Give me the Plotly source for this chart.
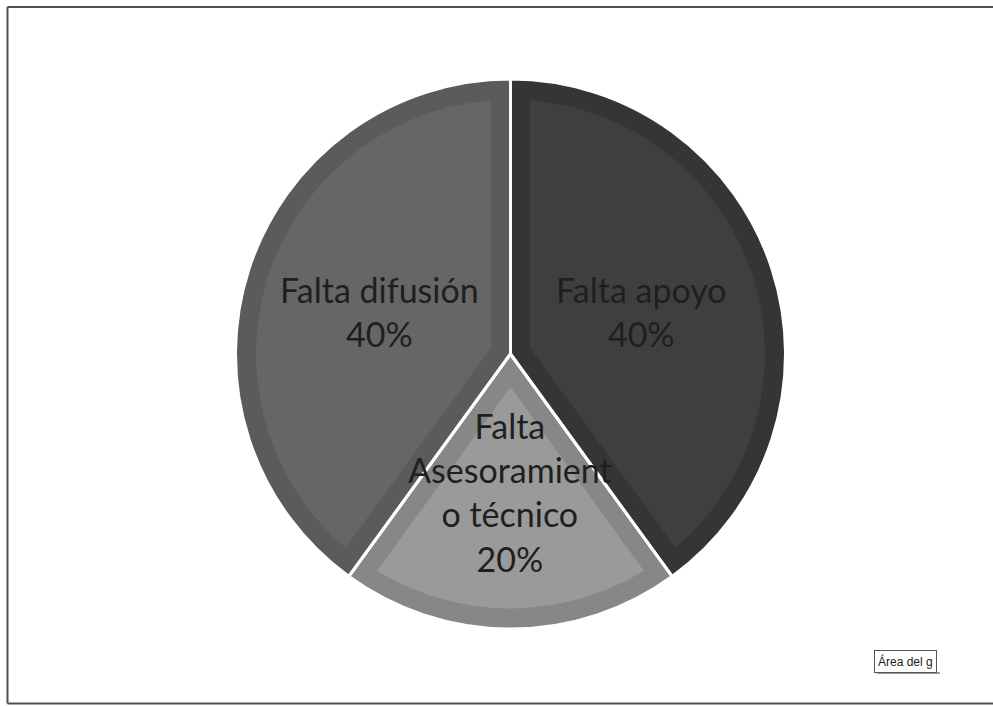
import math
import plotly.graph_objects as go

# ---- data ----
labels = ["Falta apoyo", "Falta Asesoramiento técnico", "Falta difusión"]
text_labels = ["Falta apoyo", "Falta<br>Asesoramient<br>o técnico", "Falta difusión"]
values = [40, 20, 40]
band_colors = ["#353535", "#878787", "#5b5b5b"]
fill_colors = ["#3f3f3f", "#9a9a9a", "#666666"]

# ---- layout geometry (pixels) ----
W, H = 993, 706
CX, CY = 510.5, 354.0
R = 275.0
BAND = 19.5
LABEL_RF = 0.5

total = sum(values)
pct_text = [f"{t}<br>{round(100 * v / total)}%" for t, v in zip(text_labels, values)]


def dom(half):
    return dict(x=[(CX - half) / W, (CX + half) / W],
                y=[(H - CY - half) / H, (H - CY + half) / H])


common = dict(labels=labels, values=values, sort=False, direction="clockwise",
              rotation=0, showlegend=False, hoverinfo="skip", textinfo="none")

fig = go.Figure()

# base layer (band colour)
fig.add_trace(go.Pie(**common, domain=dom(R),
                     marker=dict(colors=band_colors, line=dict(width=0))))

# inset fills for each slice (pulled wedge gives an even band on the radial edges)
for i, v in enumerate(values):
    half_ang = math.pi * v / total
    d = BAND / math.sin(half_ang)
    r_in = R - 1 - d
    pull = [d / r_in if j == i else 0 for j in range(len(values))]
    cols = [fill_colors[j] if j == i else "rgba(0,0,0,0)" for j in range(len(values))]
    fig.add_trace(go.Pie(**common, domain=dom(r_in + d), pull=pull,
                         marker=dict(colors=cols, line=dict(width=0))))

# outer ring band
fig.add_trace(go.Pie(**common, domain=dom(R), hole=(R - 1.5 - 19) / R,
                     marker=dict(colors=band_colors, line=dict(width=0))))

# white separators
fig.add_trace(go.Pie(**common, domain=dom(R),
                     marker=dict(colors=["rgba(0,0,0,0)"] * 3,
                                 line=dict(color="white", width=3))))

# labels placed on each slice's bisector
annotations = []
cum = 0
for t, v in zip(pct_text, values):
    mid = 2 * math.pi * (cum + v / 2) / total
    cum += v
    px = CX + LABEL_RF * R * math.sin(mid)
    py = CY - LABEL_RF * R * math.cos(mid)
    annotations.append(dict(text=t, xref="paper", yref="paper",
                            x=px / W, y=1 - py / H, xanchor="center", yanchor="middle",
                            showarrow=False,
                            font=dict(family="Lato", size=34, color="#1f1f1f")))

annotations.append(dict(text="Área del g", xref="paper", yref="paper",
                        x=874 / W, y=1 - 661 / H,
                        xanchor="left", yanchor="middle",
                        showarrow=False, bgcolor="white", bordercolor="#555555",
                        borderwidth=1, borderpad=3,
                        font=dict(family="Liberation Sans", size=12, color="#222222")))

frame = dict(color="#505050", width=2)
fig.update_layout(
    width=W, height=H,
    margin=dict(l=0, r=0, t=0, b=0),
    paper_bgcolor="white",
    shapes=[
        dict(type="line", xref="paper", yref="paper",
             x0=7.5 / W, x1=1, y0=1 - 7 / H, y1=1 - 7 / H, line=frame),
        dict(type="line", xref="paper", yref="paper",
             x0=7.5 / W, x1=1, y0=1 - 703.5 / H, y1=1 - 703.5 / H, line=frame),
        dict(type="line", xref="paper", yref="paper",
             x0=7.5 / W, x1=7.5 / W, y0=1 - 703.5 / H, y1=1 - 7 / H, line=frame),
        dict(type="line", xref="paper", yref="paper",
             x0=877 / W, x1=940 / W,
             y0=1 - 673 / H, y1=1 - 673 / H,
             line=dict(color="#9a9a9a", width=2)),
    ],
    annotations=annotations,
)

fig.write_html("out.html", config={"displayModeBar": False},
               post_script="document.body.style.margin='0';document.body.style.overflow='hidden';")
